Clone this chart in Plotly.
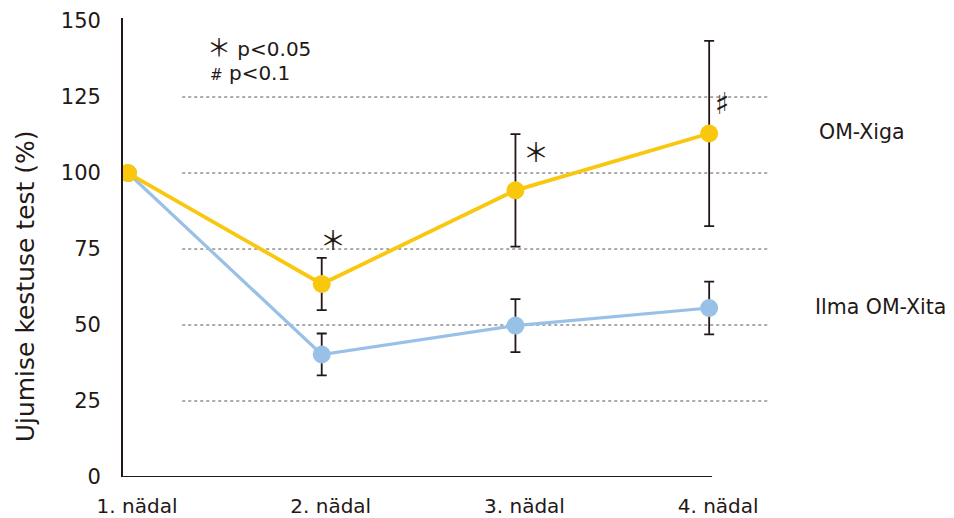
import plotly.graph_objects as go

# ---- data ----
weeks = ["1. nädal", "2. nädal", "3. nädal", "4. nädal"]
week_pos = [1, 2, 3, 4]
om_xiga = [100, 63.5, 94.3, 113.0]
om_xiga_err = [0, 8.6, 18.5, 30.5]
ilma = [100, 40.3, 49.8, 55.6]
ilma_err = [0, 6.9, 8.7, 8.7]
y_ticks = [0, 25, 50, 75, 100, 125, 150]
grid_vals = [25, 50, 75, 100, 125]
series_names = ["OM-Xiga", "Ilma OM-Xita"]

TXT = "#231815"
YEL = "#F9C70E"
BLU = "#99C1E7"
FONT = "DejaVu Sans"

fig = go.Figure()

fig.add_trace(go.Scatter(
    x=week_pos, y=ilma, mode="lines+markers", name=series_names[1],
    line=dict(color=BLU, width=3.2),
    marker=dict(color=BLU, size=18),
    error_y=dict(type="data", array=ilma_err, visible=True,
                 color=TXT, thickness=1.8, width=5),
))
fig.add_trace(go.Scatter(
    x=week_pos, y=om_xiga, mode="lines+markers", name=series_names[0],
    line=dict(color=YEL, width=3.8),
    marker=dict(color=YEL, size=18),
    error_y=dict(type="data", array=om_xiga_err, visible=True,
                 color=TXT, thickness=1.8, width=5),
))

shapes = []
for g in grid_vals:
    shapes.append(dict(type="line", xref="x", yref="y", x0=1.28, x1=4.31, y0=g, y1=g,
                       line=dict(color="#555555", width=1, dash="3px,3px"), layer="below"))
# x axis line (ends at last week)
shapes.append(dict(type="line", xref="x", yref="y", x0=0.9742, x1=4.015, y0=0, y1=0,
                   line=dict(color=TXT, width=1.8)))
fig.update_layout(shapes=shapes)

ann = []
ann.append(dict(text="Ujumise kestuse test (%)", xref="paper", yref="paper",
                x=-0.151, y=0.416, textangle=-90, showarrow=False,
                font=dict(size=25, color=TXT, family=FONT), xanchor="center", yanchor="middle"))
ann.append(dict(text="<span style='font-family:Noto Sans CJK JP;font-size:24px'>＊</span> p<0.05",
                xref="x", yref="y", x=1.40, y=142, xanchor="left",
                showarrow=False, font=dict(size=20, color=TXT, family=FONT)))
ann.append(dict(text="<span style='font-size:15px'>#</span> p<0.1", xref="x", yref="y", x=1.415, y=133,
                xanchor="left", showarrow=False, font=dict(size=20, color=TXT, family=FONT)))
ann.append(dict(text="＊", xref="x", yref="y", x=2.058, y=78.5, showarrow=False,
                font=dict(size=26, color=TXT, family="Noto Sans CJK JP")))
ann.append(dict(text="＊", xref="x", yref="y", x=3.106, y=107.5, showarrow=False,
                font=dict(size=26, color=TXT, family="Noto Sans CJK JP")))
ann.append(dict(text="♯", xref="x", yref="y", x=4.067, y=123, showarrow=False,
                font=dict(size=30, color=TXT, family="DejaVu Sans")))
ann.append(dict(text=series_names[0], xref="paper", yref="y", x=1.073, y=om_xiga[-1] + 0.5,
                xanchor="left", showarrow=False, font=dict(size=20.5, color=TXT, family=FONT)))
ann.append(dict(text=series_names[1], xref="paper", yref="y", x=1.067, y=ilma[-1] + 0.3,
                xanchor="left", showarrow=False, font=dict(size=20.5, color=TXT, family=FONT)))
fig.update_layout(annotations=ann)

# page body has an 8px margin: shift plot area up/left to compensate
fig.update_layout(
    width=946, height=518,
    margin=dict(l=115, r=184, t=10, b=49),
    paper_bgcolor="white", plot_bgcolor="white",
    showlegend=False,
    font=dict(family=FONT, color=TXT),
    xaxis=dict(range=[0.9742, 4.314], tickvals=week_pos, ticktext=weeks,
               showgrid=False, zeroline=False, showline=False, ticks="",
               automargin=False,
               tickfont=dict(size=20, color=TXT), ticklabelstandoff=15, ticklabelshift=9),
    yaxis=dict(range=[0, 151], tickvals=y_ticks, showgrid=False, zeroline=False,
               showline=True, linecolor=TXT, linewidth=1.8, ticks="", automargin=False,
               tickfont=dict(size=21, color=TXT), ticklabelstandoff=16),
)

fig.write_html("out.html")
